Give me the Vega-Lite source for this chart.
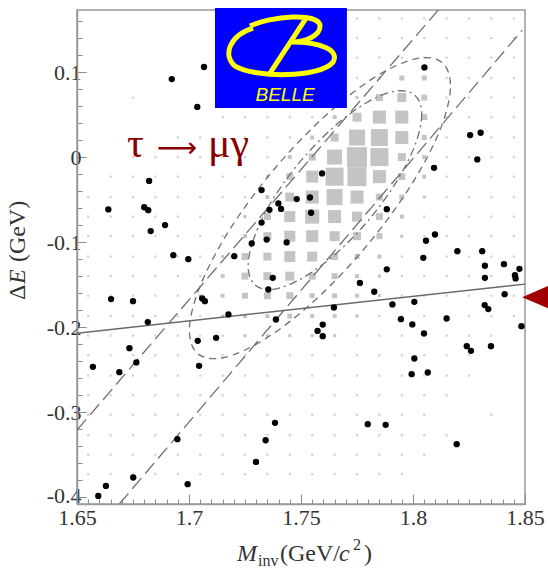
{
"$schema": "https://vega.github.io/schema/vega-lite/v6.json",
"width": 448,
"height": 494,
"autosize": {"type": "none"},
"padding": {"left": 77, "top": 10, "right": 23, "bottom": 69},
"background": "white",
"config": {"view": {"stroke": "#9a9a9a", "strokeWidth": 1.5}, "font": "Liberation Serif"},
"datasets": {
"faint": [
{"y":0.163,"x":[1.775,1.785,1.795,1.805,1.815,1.825,1.835,1.845]},
{"y":0.14,"x":[1.765,1.775,1.785,1.795,1.805,1.815,1.825,1.835,1.845]},
{"y":0.117,"x":[1.755,1.765,1.775,1.785,1.795,1.805,1.815,1.825,1.835,1.845]},
{"y":0.093,"x":[1.745,1.755,1.765,1.775,1.785,1.795,1.805,1.815,1.825,1.835,1.845]},
{"y":0.07,"x":[1.675,1.735,1.745,1.755,1.765,1.775,1.785,1.795,1.805,1.815,1.825,1.835,1.845]},
{"y":0.047,"x":[1.715,1.725,1.735,1.745,1.755,1.765,1.775,1.785,1.795,1.805,1.815,1.825,1.835,1.845]},
{"y":0.023,"x":[1.695,1.705,1.715,1.725,1.735,1.745,1.755,1.765,1.775,1.785,1.795,1.805,1.815,1.825,1.835,1.845]},
{"y":0,"x":[1.675,1.685,1.695,1.705,1.715,1.725,1.735,1.745,1.755,1.765,1.775,1.785,1.795,1.805,1.815,1.825,1.835,1.845]},
{"y":-0.023,"x":[1.665,1.675,1.685,1.695,1.705,1.715,1.725,1.735,1.745,1.755,1.765,1.775,1.785,1.795,1.805,1.815,1.825,1.835,1.845]},
{"y":-0.047,"x":[1.655,1.665,1.675,1.685,1.695,1.705,1.715,1.725,1.735,1.745,1.755,1.765,1.775,1.785,1.795,1.805,1.815,1.825,1.835,1.845]},
{"y":-0.07,"x":[1.655,1.665,1.675,1.685,1.695,1.705,1.715,1.725,1.735,1.745,1.755,1.765,1.775,1.785,1.795,1.805,1.815,1.825,1.835,1.845]},
{"y":-0.093,"x":[1.655,1.665,1.675,1.685,1.695,1.705,1.715,1.725,1.735,1.745,1.755,1.765,1.775,1.785,1.795,1.805,1.815,1.825,1.835,1.845]},
{"y":-0.117,"x":[1.655,1.665,1.675,1.685,1.695,1.705,1.715,1.725,1.735,1.745,1.755,1.765,1.775,1.785,1.795,1.805,1.815,1.825,1.835,1.845]},
{"y":-0.14,"x":[1.655,1.665,1.675,1.685,1.695,1.705,1.715,1.725,1.735,1.745,1.755,1.765,1.775,1.785,1.795,1.805,1.815,1.825,1.835,1.845]},
{"y":-0.163,"x":[1.655,1.665,1.675,1.685,1.695,1.705,1.715,1.725,1.735,1.745,1.755,1.765,1.775,1.785,1.795,1.805,1.815,1.825,1.835,1.845]},
{"y":-0.187,"x":[1.655,1.665,1.675,1.685,1.695,1.705,1.715,1.725,1.735,1.745,1.755,1.765,1.775,1.785,1.795,1.805,1.815,1.825,1.835,1.845]},
{"y":-0.21,"x":[1.655,1.665,1.675,1.685,1.695,1.705,1.715,1.725,1.735,1.745,1.755,1.765,1.775,1.785,1.795,1.805,1.815,1.825,1.835]},
{"y":-0.233,"x":[1.655,1.665,1.675,1.685,1.695,1.705,1.715,1.725,1.735,1.745,1.755,1.765,1.775,1.785,1.795,1.805,1.815,1.825]},
{"y":-0.257,"x":[1.655,1.665,1.675,1.685,1.695,1.705,1.715,1.725,1.735,1.745,1.755,1.765,1.775,1.785,1.795,1.805,1.815,1.825]},
{"y":-0.28,"x":[1.655,1.665,1.675,1.685,1.695,1.705,1.715,1.725,1.735,1.745,1.755,1.765,1.775,1.785,1.795,1.805,1.815]},
{"y":-0.303,"x":[1.655,1.665,1.675,1.685,1.695,1.705,1.715,1.725,1.735,1.745,1.755,1.765,1.775,1.785,1.795,1.805,1.835]},
{"y":-0.327,"x":[1.655,1.665,1.675,1.685,1.695,1.705,1.715,1.725,1.735,1.745,1.755,1.765,1.775,1.785,1.795,1.805,1.815]},
{"y":-0.35,"x":[1.655,1.665,1.675,1.685,1.695,1.705,1.715,1.725,1.735,1.745,1.755,1.765,1.775,1.785,1.795,1.805]},
{"y":-0.373,"x":[1.655,1.665,1.675,1.685,1.695,1.705,1.715,1.725,1.735,1.745,1.755,1.765,1.775,1.785,1.795]}
],
"boxes": [
{"x":1.785,"y":0.093,"n":3},{"x":1.795,"y":0.093,"n":5},{"x":1.805,"y":0.093,"n":5},
{"x":1.775,"y":0.07,"n":3},{"x":1.785,"y":0.07,"n":7},{"x":1.795,"y":0.07,"n":9},{"x":1.805,"y":0.07,"n":6},
{"x":1.765,"y":0.047,"n":4},{"x":1.775,"y":0.047,"n":9},{"x":1.785,"y":0.047,"n":13},{"x":1.795,"y":0.047,"n":13},{"x":1.805,"y":0.047,"n":6},
{"x":1.755,"y":0.023,"n":4},{"x":1.765,"y":0.023,"n":8},{"x":1.775,"y":0.023,"n":16},{"x":1.785,"y":0.023,"n":17},{"x":1.795,"y":0.023,"n":13},{"x":1.805,"y":0.023,"n":5},
{"x":1.745,"y":0,"n":4},{"x":1.755,"y":0,"n":7},{"x":1.765,"y":0,"n":15},{"x":1.775,"y":0,"n":20},{"x":1.785,"y":0,"n":18},{"x":1.795,"y":0,"n":8},{"x":1.805,"y":0,"n":4},
{"x":1.735,"y":-0.023,"n":3},{"x":1.745,"y":-0.023,"n":7},{"x":1.755,"y":-0.023,"n":12},{"x":1.765,"y":-0.023,"n":18},{"x":1.775,"y":-0.023,"n":19},{"x":1.785,"y":-0.023,"n":13},{"x":1.795,"y":-0.023,"n":7},{"x":1.805,"y":-0.023,"n":4},
{"x":1.735,"y":-0.047,"n":4},{"x":1.745,"y":-0.047,"n":9},{"x":1.755,"y":-0.047,"n":13},{"x":1.765,"y":-0.047,"n":16},{"x":1.775,"y":-0.047,"n":13},{"x":1.785,"y":-0.047,"n":7},{"x":1.795,"y":-0.047,"n":5},{"x":1.805,"y":-0.047,"n":3},
{"x":1.725,"y":-0.07,"n":3},{"x":1.735,"y":-0.07,"n":7},{"x":1.745,"y":-0.07,"n":11},{"x":1.755,"y":-0.07,"n":14},{"x":1.765,"y":-0.07,"n":13},{"x":1.775,"y":-0.07,"n":10},{"x":1.785,"y":-0.07,"n":7},{"x":1.795,"y":-0.07,"n":4},
{"x":1.725,"y":-0.093,"n":4},{"x":1.735,"y":-0.093,"n":8},{"x":1.745,"y":-0.093,"n":11},{"x":1.755,"y":-0.093,"n":12},{"x":1.765,"y":-0.093,"n":10},{"x":1.775,"y":-0.093,"n":8},{"x":1.785,"y":-0.093,"n":6},{"x":1.795,"y":-0.093,"n":3},
{"x":1.715,"y":-0.117,"n":3},{"x":1.725,"y":-0.117,"n":7},{"x":1.735,"y":-0.117,"n":8},{"x":1.745,"y":-0.117,"n":11},{"x":1.755,"y":-0.117,"n":10},{"x":1.765,"y":-0.117,"n":7},{"x":1.775,"y":-0.117,"n":5},{"x":1.785,"y":-0.117,"n":4},
{"x":1.715,"y":-0.14,"n":4},{"x":1.725,"y":-0.14,"n":7},{"x":1.735,"y":-0.14,"n":8},{"x":1.745,"y":-0.14,"n":9},{"x":1.755,"y":-0.14,"n":7},{"x":1.765,"y":-0.14,"n":6},{"x":1.775,"y":-0.14,"n":4},{"x":1.785,"y":-0.14,"n":3},
{"x":1.705,"y":-0.163,"n":3},{"x":1.715,"y":-0.163,"n":4},{"x":1.725,"y":-0.163,"n":6},{"x":1.735,"y":-0.163,"n":7},{"x":1.745,"y":-0.163,"n":7},{"x":1.755,"y":-0.163,"n":5},{"x":1.765,"y":-0.163,"n":5},{"x":1.775,"y":-0.163,"n":4},{"x":1.785,"y":-0.163,"n":3},
{"x":1.715,"y":-0.187,"n":3},{"x":1.725,"y":-0.187,"n":4},{"x":1.735,"y":-0.187,"n":4},{"x":1.745,"y":-0.187,"n":5},{"x":1.755,"y":-0.187,"n":4},{"x":1.765,"y":-0.187,"n":4},{"x":1.775,"y":-0.187,"n":3},
{"x":1.725,"y":-0.21,"n":3},{"x":1.735,"y":-0.21,"n":3},{"x":1.745,"y":-0.21,"n":3},{"x":1.755,"y":-0.21,"n":3},{"x":1.765,"y":-0.21,"n":3}
],
"outer": [
{"k":0,"x":1.8130,"y":0.1112},{"k":1,"x":1.8167,"y":0.0807},{"k":2,"x":1.8116,"y":0.0289},{"k":3,"x":1.7983,"y":-0.0365},
{"k":4,"x":1.7790,"y":-0.1054},{"k":5,"x":1.7566,"y":-0.1675},{"k":6,"x":1.7344,"y":-0.2132},{"k":7,"x":1.7159,"y":-0.2355},
{"k":8,"x":1.7039,"y":-0.2312},{"k":9,"x":1.7002,"y":-0.2007},{"k":10,"x":1.7054,"y":-0.1489},{"k":11,"x":1.7186,"y":-0.0835},
{"k":12,"x":1.7379,"y":-0.0146},{"k":13,"x":1.7604,"y":0.0475},{"k":14,"x":1.7825,"y":0.0932},{"k":15,"x":1.8010,"y":0.1155}
],
"inner": [
{"k":0,"x":1.8008,"y":0.0729},{"k":1,"x":1.8039,"y":0.0514},{"k":2,"x":1.8012,"y":0.0162},{"k":3,"x":1.7930,"y":-0.0274},
{"k":4,"x":1.7806,"y":-0.0728},{"k":5,"x":1.7658,"y":-0.1131},{"k":6,"x":1.7509,"y":-0.1419},{"k":7,"x":1.7382,"y":-0.1552},
{"k":8,"x":1.7296,"y":-0.1506},{"k":9,"x":1.7264,"y":-0.1291},{"k":10,"x":1.7292,"y":-0.0939},{"k":11,"x":1.7373,"y":-0.0502},
{"k":12,"x":1.7498,"y":-0.0048},{"k":13,"x":1.7646,"y":0.0354},{"k":14,"x":1.7794,"y":0.0642},{"k":15,"x":1.7921,"y":0.0775}
],
"lines": [
{"id":"a","x":1.65,"y":-0.321},{"id":"a","x":1.8113,"y":0.173},
{"id":"b","x":1.6689,"y":-0.408},{"id":"b","x":1.8488,"y":0.1494}
],
"solid": [{"x":1.65,"y":-0.2071},{"x":1.85,"y":-0.1494}],
"pts": [
{"x":1.6923,"y":0.0918},{"x":1.7067,"y":0.106},{"x":1.7037,"y":0.059},{"x":1.6822,"y":-0.028},
{"x":1.6640,"y":-0.0615},{"x":1.6800,"y":-0.059},{"x":1.6818,"y":-0.0624},{"x":1.6829,"y":-0.087},
{"x":1.6893,"y":-0.080},{"x":1.6930,"y":-0.1153},{"x":1.6997,"y":-0.120},{"x":1.7202,"y":-0.1165},
{"x":1.7280,"y":-0.1015},{"x":1.7324,"y":-0.0388},{"x":1.7359,"y":-0.062},{"x":1.7399,"y":-0.0545},
{"x":1.7411,"y":-0.061},{"x":1.7324,"y":-0.077},{"x":1.7347,"y":-0.097},{"x":1.7436,"y":-0.1004},
{"x":1.7481,"y":-0.0494},{"x":1.7540,"y":-0.0475},{"x":1.7545,"y":-0.0655},{"x":1.7594,"y":-0.0192},
{"x":1.7374,"y":-0.142},{"x":1.8051,"y":0.1055},{"x":1.8255,"y":0.0259},{"x":1.8302,"y":0.0286},
{"x":1.8287,"y":-0.0027},{"x":1.8094,"y":-0.0126},{"x":1.7883,"y":-0.0612},{"x":1.8058,"y":-0.0984},
{"x":1.8098,"y":-0.091},{"x":1.8198,"y":-0.1106},{"x":1.8309,"y":-0.1106},{"x":1.8046,"y":-0.1185},
{"x":1.8321,"y":-0.1278},{"x":1.8406,"y":-0.1259},{"x":1.8475,"y":-0.1314},{"x":1.8455,"y":-0.139},
{"x":1.8458,"y":-0.1427},{"x":1.8321,"y":-0.142},{"x":1.7883,"y":-0.132},{"x":1.7763,"y":-0.148},
{"x":1.7827,"y":-0.1584},{"x":1.8409,"y":-0.1612},{"x":1.7647,"y":-0.1769},{"x":1.7908,"y":-0.1733},
{"x":1.8006,"y":-0.1702},{"x":1.8320,"y":-0.1741},{"x":1.8336,"y":-0.1788},{"x":1.7597,"y":-0.197},
{"x":1.7574,"y":-0.2044},{"x":1.7597,"y":-0.2106},{"x":1.7946,"y":-0.1906},{"x":1.7997,"y":-0.1968},
{"x":1.8150,"y":-0.1898},{"x":1.8049,"y":-0.2074},{"x":1.8484,"y":-0.1988},{"x":1.8240,"y":-0.2224},
{"x":1.8259,"y":-0.2279},{"x":1.8348,"y":-0.2224},{"x":1.8006,"y":-0.2369},{"x":1.7994,"y":-0.2553},
{"x":1.8066,"y":-0.2533},{"x":1.7384,"y":-0.3125},{"x":1.7798,"y":-0.3141},{"x":1.7878,"y":-0.3149},
{"x":1.8195,"y":-0.3376},{"x":1.7354,"y":-0.1557},{"x":1.7059,"y":-0.1662},{"x":1.7071,"y":-0.1694},
{"x":1.7176,"y":-0.185},{"x":1.7388,"y":-0.191},{"x":1.7039,"y":-0.2161},{"x":1.7121,"y":-0.2126},
{"x":1.7045,"y":-0.2455},{"x":1.6652,"y":-0.167},{"x":1.6750,"y":-0.1694},{"x":1.6816,"y":-0.194},
{"x":1.6734,"y":-0.2247},{"x":1.6571,"y":-0.2467},{"x":1.6689,"y":-0.253},{"x":1.6765,"y":-0.2415},
{"x":1.6948,"y":-0.3318},{"x":1.6994,"y":-0.3847},{"x":1.6751,"y":-0.3768},{"x":1.6629,"y":-0.3867},
{"x":1.6595,"y":-0.3985},{"x":1.7342,"y":-0.333},{"x":1.7299,"y":-0.3585}
]
},
"encoding": {
"x": {"field": "x", "type": "quantitative",
 "scale": {"domain": [1.65, 1.85], "nice": false, "zero": false},
 "axis": {"title": null, "grid": false,
  "values": [1.65,1.655,1.66,1.665,1.67,1.675,1.68,1.685,1.69,1.695,1.7,1.705,1.71,1.715,1.72,1.725,1.73,1.735,1.74,1.745,1.75,1.755,1.76,1.765,1.77,1.775,1.78,1.785,1.79,1.795,1.8,1.805,1.81,1.815,1.82,1.825,1.83,1.835,1.84,1.845,1.85],
  "domainColor": "#9a9a9a", "domainWidth": 1.5, "tickColor": "#8a8a8a", "tickWidth": 1,
  "tickSize": {"condition": {"test": "abs(datum.value*20-round(datum.value*20))<0.001", "value": -10}, "value": -5},
  "labelExpr": "abs(datum.value*20-round(datum.value*20))<0.001 ? toString(datum.value) : ''",
  "labelFont": "Liberation Serif", "labelFontSize": 22, "labelColor": "#333333", "labelPadding": 13,
  "labelOverlap": false, "labelFlush": false}},
"y": {"field": "y", "type": "quantitative",
 "scale": {"domain": [-0.408, 0.173], "nice": false, "zero": false},
 "axis": {"title": null, "grid": false,
  "values": [-0.4,-0.38,-0.36,-0.34,-0.32,-0.3,-0.28,-0.26,-0.24,-0.22,-0.2,-0.18,-0.16,-0.14,-0.12,-0.1,-0.08,-0.06,-0.04,-0.02,0,0.02,0.04,0.06,0.08,0.1,0.12,0.14,0.16],
  "domainColor": "#9a9a9a", "domainWidth": 1.5, "tickColor": "#8a8a8a", "tickWidth": 1,
  "tickSize": {"condition": {"test": "abs(datum.value*10-round(datum.value*10))<0.001", "value": -9}, "value": -5},
  "labelExpr": "abs(datum.value*10-round(datum.value*10))<0.001 ? toString(datum.value) : ''",
  "labelOffset": {"condition": {"test": "datum.value < -0.39", "value": -2}, "value": 0},
  "labelFont": "Liberation Serif", "labelFontSize": 22, "labelColor": "#333333", "labelPadding": 5,
  "labelOverlap": false, "labelFlush": false}}
},
"layer": [
{"data": {"name": "faint"}, "transform": [{"flatten": ["x"]}],
 "mark": {"type": "square", "color": "#d2d2d2", "size": 5, "opacity": 1}},
{"data": {"name": "boxes"},
 "mark": {"type": "square", "color": "#c4c4c4", "opacity": 1},
 "encoding": {"size": {"field": "n", "type": "quantitative", "scale": {"type": "pow", "exponent": 2, "domain": [0, 20], "range": [0, 400], "zero": true}, "legend": null}}},
{"data": {"name": "outer"},
 "mark": {"type": "line", "interpolate": "cardinal-closed", "color": "#707070", "strokeWidth": 1.3, "strokeDash": [7, 5]},
 "encoding": {"order": {"field": "k", "type": "quantitative"}}},
{"data": {"name": "inner"},
 "mark": {"type": "line", "interpolate": "cardinal-closed", "color": "#707070", "strokeWidth": 1.3, "strokeDash": [8, 4, 2, 4]},
 "encoding": {"order": {"field": "k", "type": "quantitative"}}},
{"data": {"name": "lines"},
 "mark": {"type": "line", "color": "#707070", "strokeWidth": 1.3, "strokeDash": [14, 6], "clip": true},
 "encoding": {"detail": {"field": "id", "type": "nominal"}}},
{"data": {"name": "solid"},
 "mark": {"type": "line", "color": "#6a6a6a", "strokeWidth": 1.5},
 "encoding": {}},
{"data": {"name": "pts"},
 "mark": {"type": "circle", "color": "#000000", "size": 40, "opacity": 1}},
{"data": {"values": [{"x": 1.7116, "x2": 1.7705, "y": 0.1753, "y2": 0.0576}]},
 "mark": {"type": "rect", "color": "#0000ff"},
 "encoding": {"x2": {"field": "x2"}, "y2": {"field": "y2"}}},
{"data": {"values": [{"x": 1.7411, "y": 0.1294}]},
 "mark": {"type": "point", "shape": "M-0.467,-0.317C-0.85,-0.2,-0.983,0.133,-0.767,0.317C-0.433,0.517,0.65,0.517,0.867,0.25C0.983,0.05,0.65,-0.083,0.183,-0.083M-0.517,-0.35C-0.183,-0.517,0.65,-0.583,0.65,-0.35C0.65,-0.183,0.4,-0.083,0.183,-0.083M0.417,-0.483L-0.217,0.483", "filled": false, "stroke": "#ffff00", "strokeWidth": 5, "size": 14400, "opacity": 1}},
{"data": {"values": [{"x": 1.7429, "y": 0.0659, "t": "BELLE"}]},
 "mark": {"type": "text", "font": "Liberation Sans", "fontStyle": "italic", "fontSize": 19, "color": "#ffff00", "align": "center", "baseline": "alphabetic"},
 "encoding": {"text": {"field": "t"}}},
{"data": {"values": [{"x": 1.6723, "y": 0.0, "t": "τ"}, {"x": 1.7085, "y": 0.0, "t": "μγ"}]},
 "mark": {"type": "text", "font": "Liberation Serif", "fontSize": 42, "color": "#8b0000", "align": "left", "baseline": "alphabetic"},
 "encoding": {"text": {"field": "t"}}},
{"data": {"values": [{"x": 1.6946, "y": 0.0, "t": "⟶"}]},
 "mark": {"type": "text", "font": "DejaVu Sans", "fontSize": 28, "color": "#8b0000", "align": "center", "baseline": "alphabetic"},
 "encoding": {"text": {"field": "t"}}},
{"data": {"values": [{"x": 1.8545, "y": -0.1647}]},
 "mark": {"type": "point", "shape": "M-1,0L1,-0.85L1,0.85Z", "filled": true, "color": "#a00000", "size": 676, "opacity": 1}},
{"data": {"values": [{"x": 1.7214, "y": -0.4753, "t": "M"}, {"x": 1.767, "y": -0.4753, "t": "c"}]},
 "mark": {"type": "text", "font": "Liberation Serif", "fontStyle": "italic", "fontSize": 24, "color": "#333333", "align": "left", "baseline": "alphabetic"},
 "encoding": {"text": {"field": "t"}}},
{"data": {"values": [{"x": 1.7406, "y": -0.4753, "t": "(GeV/"}, {"x": 1.7781, "y": -0.4753, "t": ")"}]},
 "mark": {"type": "text", "font": "Liberation Serif", "fontSize": 24, "color": "#333333", "align": "left", "baseline": "alphabetic"},
 "encoding": {"text": {"field": "t"}}},
{"data": {"values": [{"x": 1.7308, "y": -0.4812, "t": "inv"}, {"x": 1.7732, "y": -0.4624, "t": "2"}]},
 "mark": {"type": "text", "font": "Liberation Serif", "fontSize": 16, "color": "#333333", "align": "left", "baseline": "alphabetic"},
 "encoding": {"text": {"field": "t"}}},
{"data": {"values": [{"x": 1.6268, "y": -0.1682, "t": "Δ"}, {"x": 1.6268, "y": -0.1235, "t": "(GeV)"}]},
 "mark": {"type": "text", "font": "Liberation Serif", "fontSize": 24, "color": "#333333", "align": "left", "baseline": "alphabetic", "angle": 270},
 "encoding": {"text": {"field": "t"}}},
{"data": {"values": [{"x": 1.6268, "y": -0.1494, "t": "E"}]},
 "mark": {"type": "text", "font": "Liberation Serif", "fontStyle": "italic", "fontSize": 24, "color": "#333333", "align": "left", "baseline": "alphabetic", "angle": 270},
 "encoding": {"text": {"field": "t"}}}
]
}
